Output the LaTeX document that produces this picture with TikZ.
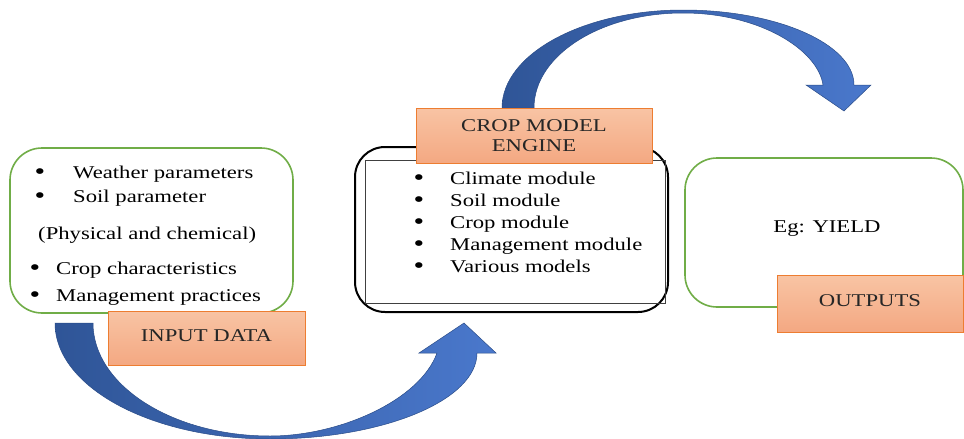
\documentclass[tikz,border=0pt]{standalone}
\usepackage{fontspec}
\setmainfont{Liberation Serif}[FakeStretch=1.26]
\definecolor{boxgreen}{HTML}{70AD47}
\definecolor{boxorange}{HTML}{ED7D31}
\definecolor{salmonT}{HTML}{F8C4A4}
\definecolor{salmonB}{HTML}{F4A882}
\definecolor{blueD}{HTML}{2F5597}
\definecolor{blueL}{HTML}{4A78CC}
\definecolor{blueEdge}{HTML}{2A4C88}
\newcommand{\mytext}{\fontsize{18}{20}\selectfont}
\newcommand{\mydot}{\fontsize{24}{20}\selectfont}
\begin{document}
\begin{tikzpicture}[x=1pt,y=-1pt,
  greenbox/.style={draw=boxgreen, line width=1.6pt, rounded corners=32pt, fill=white, inner sep=0pt},
  enginebox/.style={draw=black, line width=2pt, rounded corners=30pt, fill=white, inner sep=0pt},
  innerbox/.style={draw=black!75, line width=0.6pt, inner sep=0pt},
  orangebox/.style={draw=boxorange, line width=0.8pt, top color=salmonT, bottom color=salmonB, align=center, inner sep=0pt, font=\mytext, text=black!85},
  txt/.style={anchor=base west, inner sep=0pt, font=\mytext, text=black},
  dot/.style={anchor=base, inner sep=0pt, font=\mydot, text=black},
  bluearrow/.style={draw=blueEdge, line width=0.5pt, left color=blueD, right color=blueL}]

\useasboundingbox (0,0) rectangle (964,439);

% bottom curved arrow (input -> engine)
\coordinate (b1) at (55,323);
\coordinate (b2) at (93,323);
\path[bluearrow] (b1) .. controls (55,387) and (151,439) .. (270,439)
  .. controls (384,439) and (477,400) .. (477,353)
  -- (496,353) -- (464,323) -- (419,353) -- (437,353)
  .. controls (420,400) and (340,436) .. (270,436)
  .. controls (172,436) and (93,385) .. (b2) -- cycle;

% top curved arrow (engine -> outputs)
\coordinate (t1) at (502,108);
\coordinate (t2) at (534,108);
\path[bluearrow] (t1) .. controls (502,54) and (583,10) .. (683,10)
  .. controls (777,10) and (854,44) .. (854,85)
  -- (871,85) -- (844,111) -- (806,85) -- (823,85)
  .. controls (818,50) and (760,13) .. (683,13)
  .. controls (601,13) and (534,55) .. (t2) -- cycle;

% input box
\node[greenbox, minimum width=283pt, minimum height=165pt] (inbox) at (151.5,230.5) {};
\node[dot] (d1) at (40,179) {•};
\node[txt] (i1) at (73,178) {Weather parameters};
\node[dot] (d2) at (40,203) {•};
\node[txt] (i2) at (73,202) {Soil parameter};
\node[txt] (i3) at (38,239) {(Physical and chemical)};
\node[dot] (d4) at (35,275) {•};
\node[txt] (i4) at (56,274) {Crop characteristics};
\node[dot] (d5) at (35,302) {•};
\node[txt] (i5) at (56,301) {Management practices};
\node[orangebox, minimum width=197pt, minimum height=54pt] (input) at (206.5,338) {\raisebox{5pt}{INPUT DATA}};

% engine box
\node[enginebox, minimum width=313pt, minimum height=165pt] (engbox) at (511.5,229.5) {};
\node[innerbox, minimum width=300pt, minimum height=143pt] (engin) at (515,231.5) {};
\node[orangebox, minimum width=236pt, minimum height=55pt] (engine) at (534,135.5) {CROP MODEL\\ENGINE};
\node[dot] (e1d) at (419,185) {•};
\node[txt] (e1) at (450,184) {Climate module};
\node[dot] (e2d) at (419,207) {•};
\node[txt] (e2) at (450,206) {Soil module};
\node[dot] (e3d) at (419,229) {•};
\node[txt] (e3) at (450,228) {Crop module};
\node[dot] (e4d) at (419,251) {•};
\node[txt] (e4) at (450,250) {Management module};
\node[dot] (e5d) at (419,273) {•};
\node[txt] (e5) at (450,272) {Various models};

% output box
\node[greenbox, minimum width=278pt, minimum height=149pt] (outbox) at (824,232.5) {};
\node[inner sep=0pt, font=\mytext, text=black] (yield) at (827,229) {Eg: YIELD};
\node[orangebox, minimum width=186pt, minimum height=57pt] (outputs) at (870,303.5) {\raisebox{6pt}{OUTPUTS}};
\end{tikzpicture}
\end{document}
